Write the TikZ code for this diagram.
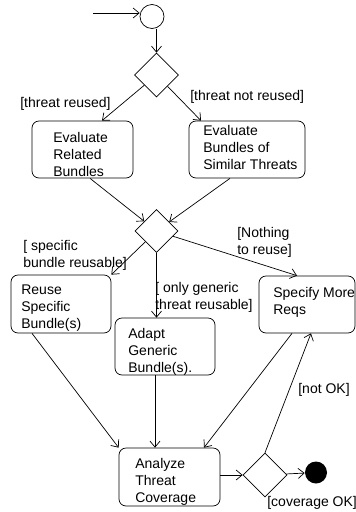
\documentclass[tikz,border=0pt]{standalone}
\usepackage{fontspec}
\setmainfont{Liberation Sans}
\usetikzlibrary{arrows.meta,shapes.geometric}

\begin{document}
\begin{tikzpicture}[x=1pt,y=-1pt,line width=0.7pt,
  >={Straight Barb[length=6pt,width=10pt]},
  every node/.style={font=\fontsize{14pt}{17pt}\selectfont,inner sep=0pt},
  act/.style={draw,rounded corners=7pt},
  txt/.style={anchor=north west,align=left},
  choice/.style={draw,diamond,aspect=1,minimum size=44pt}]
  \useasboundingbox (0,0) rectangle (356,512);
  \coordinate (init) at (93,13);
  \node[draw,circle,minimum size=24pt] (start) at (152,16.5) {};
  \node[choice] (dec1) at (156.5,75) {};
  \node[act,minimum width=101pt,minimum height=57pt] (related) at (82.5,149.5) {};
  \node[act,minimum width=116pt,minimum height=57pt] (similar) at (247,149.5) {};
  \node[choice,minimum size=43pt] (dec2) at (156.5,231) {};
  \node[act,minimum width=100pt,minimum height=58pt] (reuse) at (61,304) {};
  \node[act,minimum width=96pt,minimum height=57pt] (specify) at (307,304.5) {};
  \node[act,minimum width=100pt,minimum height=57pt] (adapt) at (165,346.5) {};
  \node[act,minimum width=101pt,minimum height=58pt] (analyze) at (169.5,477) {};
  \node[choice] (dec3) at (265,475) {};
  \node[fill,circle,minimum size=22pt] (final) at (316,472.5) {};

  \node[txt] (relatedtxt) at (53,132) {Evaluate\\Related\\Bundles};
  \node[txt] (similartxt) at (203,125) {Evaluate\\Bundles of\\Similar Threats};
  \node[txt] (reusetxt) at (21,285) {Reuse\\Specific\\Bundle(s)};
  \node[txt] (specifytxt) at (273,287) {Specify More\\Reqs};
  \node[txt] (adapttxt) at (128,328) {Adapt\\Generic\\Bundle(s).};
  \node[txt] (analyzetxt) at (135,458) {Analyze\\Threat\\Coverage};

  \node[txt] (reusedlbl) at (20,97.5) {[threat reused]};
  \node[txt] (notreusedlbl) at (190,90) {[threat not reused]};
  \node[txt] (specificlbl) at (23,240) {[ specific\\bundle reusable]};
  \node[txt] (nothinglbl) at (237,227) {[Nothing\\to reuse]};
  \node[txt] (genericlbl) at (155,282) {[ only generic\\threat reusable]};
  \node[txt] (notoklbl) at (298,383) {[not OK]};
  \node[txt] (oklbl) at (267,496) {[coverage OK]};

  \draw[->] (init) -- (init -| start.west);
  \draw[->] (dec1.north |- start.south) -- (dec1.north);
  \draw[->] (dec1) -- ([xshift=19.5pt]related.north);
  \draw[->] (dec1) -- ([xshift=-46pt]similar.north);
  \draw[->] ([xshift=7.5pt]related.south) -- (dec2);
  \draw[->] ([xshift=-17pt]similar.south) -- (dec2);
  \draw[->] (dec2) -- (reuse.north east);
  \draw[->] (dec2.south) -- (dec2.south |- adapt.north);
  \draw[->] (dec2) -- ([xshift=-10pt]specify.north);
  \draw[->] ([xshift=-29pt]reuse.south) -- (analyze.north west);
  \draw[->] ([xshift=-10pt]adapt.south) -- ([xshift=-14.5pt]analyze.north);
  \draw[->] ([xshift=-15pt]specify.south) -- ([xshift=34.5pt]analyze.north);
  \draw[->] (analyze.east |- dec3) -- (dec3);
  \draw[->] (dec3) -- (final);
  \draw[->] (dec3.north) -- ([xshift=4pt]specify.south);
\end{tikzpicture}
\end{document}
